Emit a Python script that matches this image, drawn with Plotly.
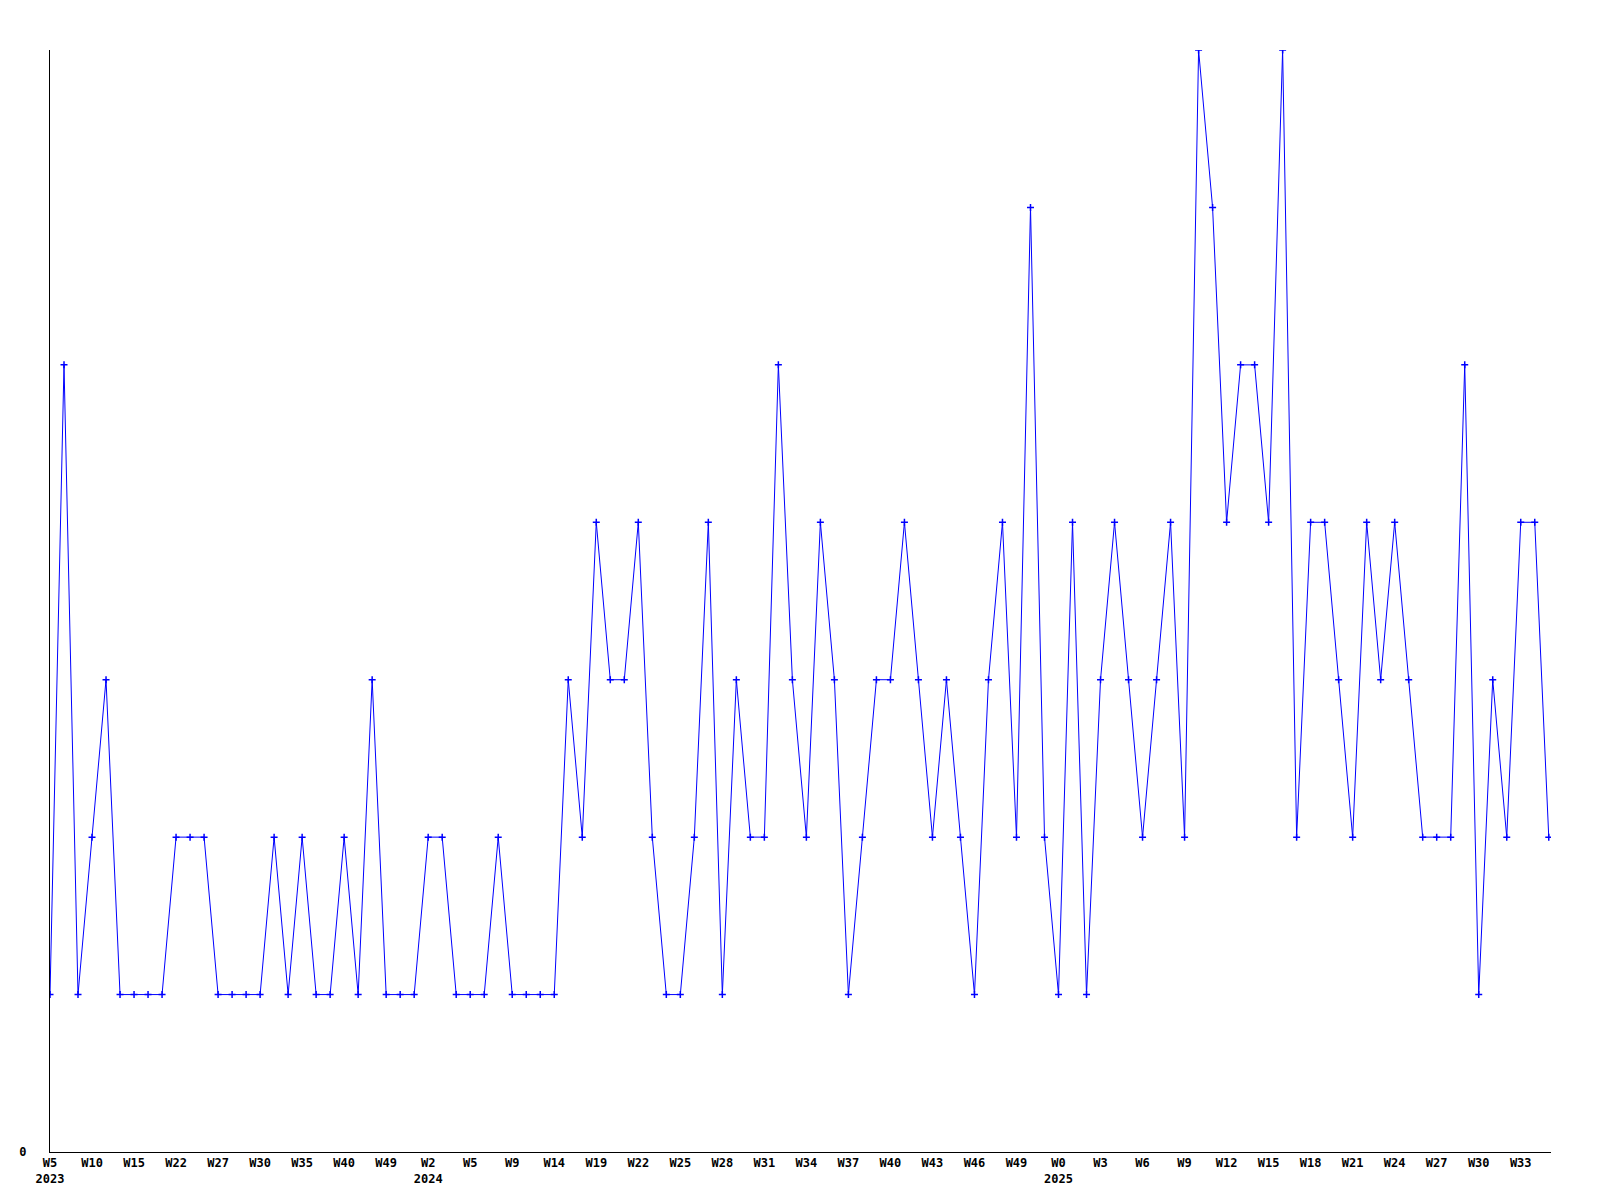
import plotly.graph_objects as go

# Weekly counts (one point per week bucket, 108 points)
values = [
    1, 5, 1, 2, 3, 1, 1, 1, 1, 2, 2, 2, 1, 1, 1, 1, 2, 1, 2, 1,
    1, 2, 1, 3, 1, 1, 1, 2, 2, 1, 1, 1, 2, 1, 1, 1, 1, 3, 2, 4,
    3, 3, 4, 2, 1, 1, 2, 4, 1, 3, 2, 2, 5, 3, 2, 4, 3, 1, 2, 3,
    3, 4, 3, 2, 3, 2, 1, 3, 4, 2, 6, 2, 1, 4, 1, 3, 4, 3, 2, 3,
    4, 2, 7, 6, 4, 5, 5, 4, 7, 2, 4, 4, 3, 2, 4, 3, 4, 3, 2, 2,
    2, 5, 1, 3, 2, 4, 4, 2,
]

# Tick labels, shown on every third point
tick_labels = [
    "W5<br>2023", "W10", "W15", "W22", "W27", "W30", "W35", "W40", "W49",
    "W2<br>2024", "W5", "W9", "W14", "W19", "W22", "W25", "W28", "W31",
    "W34", "W37", "W40", "W43", "W46", "W49", "W0<br>2025", "W3", "W6",
    "W9", "W12", "W15", "W18", "W21", "W24", "W27", "W30", "W33",
]
tick_step = 3

x_idx = list(range(len(values)))
tickvals = [i * tick_step for i in range(len(tick_labels))]

fig = go.Figure()
fig.add_trace(go.Scatter(
    x=x_idx,
    y=values,
    mode="lines+markers",
    line=dict(color="#0000FF", width=1),
    marker=dict(symbol="cross-thin", size=5, color="#0000FF",
                line=dict(color="#0000FF", width=1.5)),
    hoverinfo="x+y",
    showlegend=False,
))

font = dict(family="DejaVu Sans Mono", size=12, color="#000000", weight="bold")

fig.update_layout(
    width=1592,
    height=1192,
    paper_bgcolor="white",
    plot_bgcolor="white",
    margin=dict(l=42, r=49, t=42, b=48),
    font=font,
    xaxis=dict(
        range=[0, (len(values) - 1) + 0.16],
        tickmode="array",
        tickvals=tickvals,
        ticktext=tick_labels,
        showgrid=False,
        zeroline=False,
        showline=True,
        linecolor="#000000",
        linewidth=1,
        ticks="",
        tickfont=font,
        tickangle=0,
        automargin=False,
    ),
    yaxis=dict(
        range=[0, max(values)],
        tickmode="array",
        tickvals=[0],
        ticktext=["0"],
        showgrid=False,
        zeroline=False,
        showline=True,
        linecolor="#000000",
        linewidth=1,
        ticks="",
        ticklabelstandoff=20,
        tickfont=font,
        automargin=False,
    ),
)

fig.write_html("out.html")
